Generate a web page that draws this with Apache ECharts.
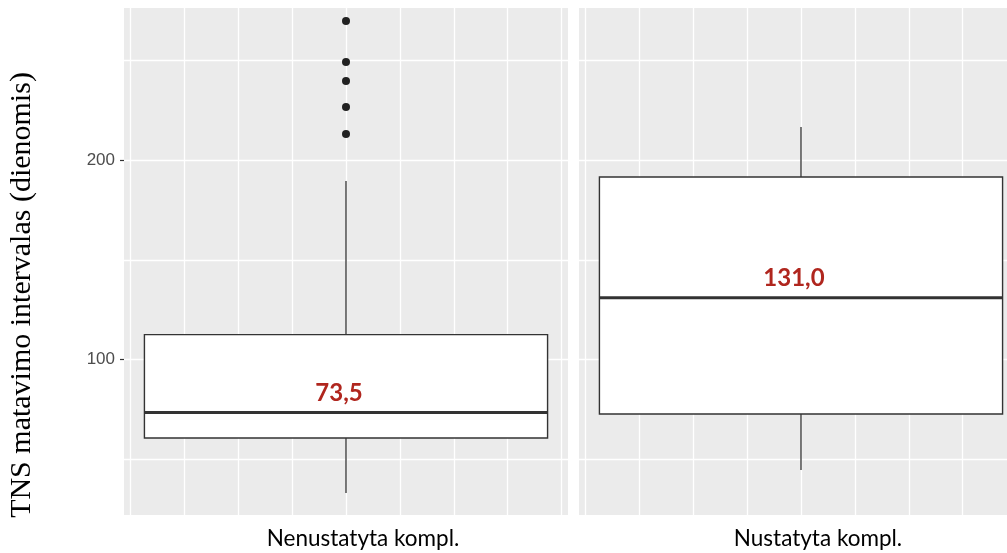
<!DOCTYPE html>
<html>
<head>
<meta charset="utf-8">
<title>TNS matavimo intervalas</title>
<script src="https://cdn.jsdelivr.net/npm/echarts@6/dist/echarts.min.js"></script>
<style>
  html, body { margin: 0; padding: 0; background: #ffffff; }
  #chart { width: 1007px; height: 553px; }
</style>
</head>
<body>
<div id="chart"></div>
<script>
// Groups (one facet panel each)
const categories = ['Nenustatyta kompl.', 'Nustatyta kompl.'];

// Box statistics per group (days)
const lowerWhisker = [33.1, 44.6];
const lowerQuartile = [60.7, 72.7];
const medians = [73.5, 131.0];
const upperQuartile = [112.5, 191.5];
const upperWhisker = [189.5, 216.5];

// Outlying observations per group
const outliers = [
  [269.7, 249.1, 239.6, 226.6, 213.0],
  []
];

// Y axis tick labels
const yTickValues = [100, 200];

const yTitle = 'TNS matavimo intervalas (dienomis)';

const PANEL_BG = '#ebebeb';
const INK = '#333333';
const LABEL_RED = '#b0261e';

const fmtComma = v => v.toFixed(1).replace('.', ',');

function renderBox(params, api) {
  const x = api.value(0);
  const lo = api.coord([x, api.value(1)]);
  const q1 = api.coord([x, api.value(2)]);
  const md = api.coord([x, api.value(3)]);
  const q3 = api.coord([x, api.value(4)]);
  const hi = api.coord([x, api.value(5)]);
  const half = api.size([1, 0])[0] * 0.908 / 2;
  const cx = md[0];
  return {
    type: 'group',
    children: [
      { type: 'line', shape: { x1: cx, y1: hi[1], x2: cx, y2: q3[1] },
        style: { stroke: INK, lineWidth: 1.3 } },
      { type: 'line', shape: { x1: cx, y1: q1[1], x2: cx, y2: lo[1] },
        style: { stroke: INK, lineWidth: 1.3 } },
      { type: 'rect', shape: { x: cx - half, y: q3[1], width: half * 2, height: q1[1] - q3[1] },
        style: { fill: '#ffffff', stroke: INK, lineWidth: 1.4 } },
      { type: 'line', shape: { x1: cx - half, y1: md[1], x2: cx + half, y2: md[1] },
        style: { stroke: INK, lineWidth: 3 } },
      { type: 'text', x: cx - 7, y: md[1] - 7,
        style: { text: fmtComma(api.value(3)), font: 'bold 24px Lato', fill: LABEL_RED,
                 align: 'center', verticalAlign: 'bottom' } }
    ]
  };
}

const panels = [
  { left: 124 },
  { left: 579 }
];
const PANEL_W = 444;
const PANEL_TOP = 8;
const PANEL_H = 507;
const Y_MIN = 22.1, Y_MAX = 276.2;
const GRID_HALF_UNITS = 4.119;

const grid = [], xAxis = [], yAxis = [], series = [];

panels.forEach((p, i) => {
  grid.push({
    left: p.left, top: PANEL_TOP, width: PANEL_W, height: PANEL_H,
    show: true, backgroundColor: PANEL_BG, borderWidth: 0,
    containLabel: false, outerBoundsMode: 'none'
  });
  // category axis carrying the box and the group label
  xAxis.push({
    type: 'category', gridIndex: i, data: [categories[i]],
    axisLine: { show: false }, axisTick: { show: false }, splitLine: { show: false },
    axisLabel: {
      color: '#000000', fontFamily: 'Lato', fontSize: 22.5, margin: 12,
      padding: [0, 0, 0, 34]
    }
  });
  // value axis used only for the vertical panel grid lines
  xAxis.push({
    type: 'value', gridIndex: i, min: -GRID_HALF_UNITS, max: GRID_HALF_UNITS, splitNumber: 8,
    axisLine: { show: false, onZero: false }, axisTick: { show: false }, axisLabel: { show: false },
    splitLine: { show: true, showMinLine: false, showMaxLine: false,
                 lineStyle: { color: '#ffffff', width: 1.3 } }
  });
  // value axis carrying the data and the horizontal grid lines
  yAxis.push({
    type: 'value', gridIndex: i, min: Y_MIN, max: Y_MAX, splitNumber: 5,
    axisLine: { show: false, onZero: false }, axisTick: { show: false }, axisLabel: { show: false },
    splitLine: { show: true, showMinLine: false, showMaxLine: false,
                 lineStyle: { color: '#ffffff', width: 1.3 } }
  });
  series.push({
    type: 'custom', xAxisIndex: i * 2, yAxisIndex: i === 0 ? 0 : 2,
    renderItem: renderBox,
    encode: { x: 0, y: [1, 2, 3, 4, 5] },
    data: [[0, lowerWhisker[i], lowerQuartile[i], medians[i], upperQuartile[i], upperWhisker[i]]],
    z: 3
  });
  if (outliers[i].length) {
    series.push({
      type: 'scatter', xAxisIndex: i * 2, yAxisIndex: i === 0 ? 0 : 2,
      symbol: 'circle', symbolSize: 8,
      itemStyle: { color: '#222222', opacity: 1 },
      data: outliers[i].map(v => [0, v]),
      z: 4
    });
  }
  if (i === 0) {
    // labelled axis on the left panel: ticks and labels at the major breaks
    yAxis.push({
      type: 'value', gridIndex: 0, min: Y_MIN, max: Y_MAX, position: 'left',
      axisLine: { show: false, onZero: false },
      splitLine: { show: false },
      axisTick: { show: true, customValues: yTickValues, length: 4,
                  lineStyle: { color: INK, width: 1.2 } },
      axisLabel: { show: true, customValues: yTickValues, color: '#4d4d4d',
                   fontFamily: 'Liberation Sans', fontSize: 17, margin: 9 }
    });
  }
});

const chart = echarts.init(document.getElementById('chart'), null, { renderer: 'canvas' });
chart.setOption({
  animation: false,
  backgroundColor: '#ffffff',
  grid, xAxis, yAxis, series,
  graphic: [{
    type: 'text', x: 22, y: 295, rotation: Math.PI / 2,
    style: { text: yTitle, font: '30px "Liberation Serif"', fill: '#000000',
             align: 'center', verticalAlign: 'middle',
             textAlign: 'center', textVerticalAlign: 'middle' }
  }]
});
</script>
</body>
</html>
